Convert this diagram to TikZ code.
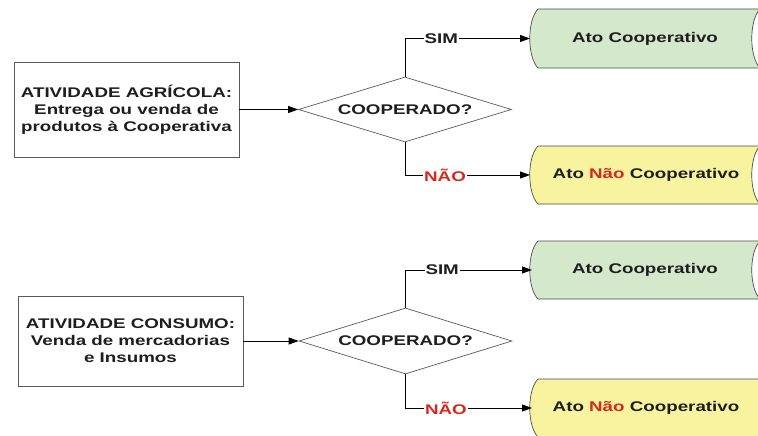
\documentclass[tikz,border=0pt]{standalone}
\usepackage{fontspec}
\setmainfont{Liberation Sans}[FakeStretch=1.34]
\usetikzlibrary{shapes.geometric,arrows.meta}
\definecolor{greenfill}{RGB}{212,233,203}
\definecolor{yellowfill}{RGB}{247,243,158}
\definecolor{shapeborder}{RGB}{70,80,70}
\definecolor{boxborder}{RGB}{90,90,90}
\definecolor{nored}{RGB}{215,40,30}
\definecolor{txt}{RGB}{30,30,30}
\newcommand\myterm[4]{% fill, top, bottom, right corner x
  \path[draw=shapeborder,line width=0.7pt,fill=#1]
    (538,#2) -- (#4,#2)
    .. controls ({#4-11},{#2+(#3-#2)*0.19}) and ({#4-11},{#3-(#3-#2)*0.19}) .. (#4,#3)
    -- (538,#3)
    .. controls (527,{#3-(#3-#2)*0.19}) and (527,{#2+(#3-#2)*0.19}) .. (538,#2) -- cycle;}
\begin{document}
\begin{tikzpicture}[x=1pt,y=-1pt,
  every node/.style={font=\fontsize{14}{17}\selectfont\bfseries,text=txt},
  actbox/.style={draw=boxborder,line width=0.8pt,fill=white,minimum width=225pt,minimum height=95pt,align=center,inner sep=0pt},
  decision/.style={diamond,draw=boxborder,line width=0.7pt,fill=white,minimum width=213pt,minimum height=65pt,aspect=3.3,inner sep=0pt},
  termtext/.style={inner sep=0pt},
  lbl/.style={fill=white,inner sep=1pt},
  conn/.style={draw=black,line width=0.9pt,-{Triangle[length=10pt,width=7pt]}}]
\useasboundingbox (0,0) rectangle (758,436);
\clip (0,0) rectangle (758,436);
\fill[white] (0,0) rectangle (758,436);

% upper section
\node[actbox] (b1) at (126.5,109.5) {ATIVIDADE AGRÍCOLA:\\Entrega ou venda de\\produtos à Cooperativa};
\node[decision] (d1) at (405,109.5) {COOPERADO?};
\myterm{greenfill}{9}{68}{760}
\node[termtext] (g1) at (645,38.5) {Ato Cooperativo};
\coordinate (g1w) at (530,38.5);
\myterm{yellowfill}{146}{204}{760}
\node[termtext] (y1) at (646,175) {Ato \textcolor{nored}{Não} Cooperativo};
\coordinate (y1w) at (530,175);

\draw[conn] (b1.east) -- (d1.west);
\draw[conn] (d1.north) |- node[lbl,pos=0.645] (s1) {SIM} (g1w);
\draw[conn] (d1.south) |- node[lbl,pos=0.66,text=nored] (n1) {NÃO} (y1w);

% lower section
\node[actbox,minimum height=90pt] (b2) at (130.5,341) {ATIVIDADE CONSUMO:\\Venda de mercadorias\\e Insumos};
\node[decision,minimum height=66pt] (d2) at (405.5,341) {COOPERADO?};
\myterm{greenfill}{241}{299}{760}
\node[termtext] (g2) at (645,270) {Ato Cooperativo};
\coordinate (g2w) at (532,270);
\myterm{yellowfill}{379}{437}{772}
\node[termtext] (y2) at (646,408) {Ato \textcolor{nored}{Não} Cooperativo};
\coordinate (y2w) at (532,408);

\draw[conn] (b2.east) -- (d2.west);
\draw[conn] (d2.north) |- node[lbl,pos=0.645] (s2) {SIM} (g2w);
\draw[conn] (d2.south) |- node[lbl,pos=0.66,text=nored] (n2) {NÃO} (y2w);
\end{tikzpicture}
\end{document}
